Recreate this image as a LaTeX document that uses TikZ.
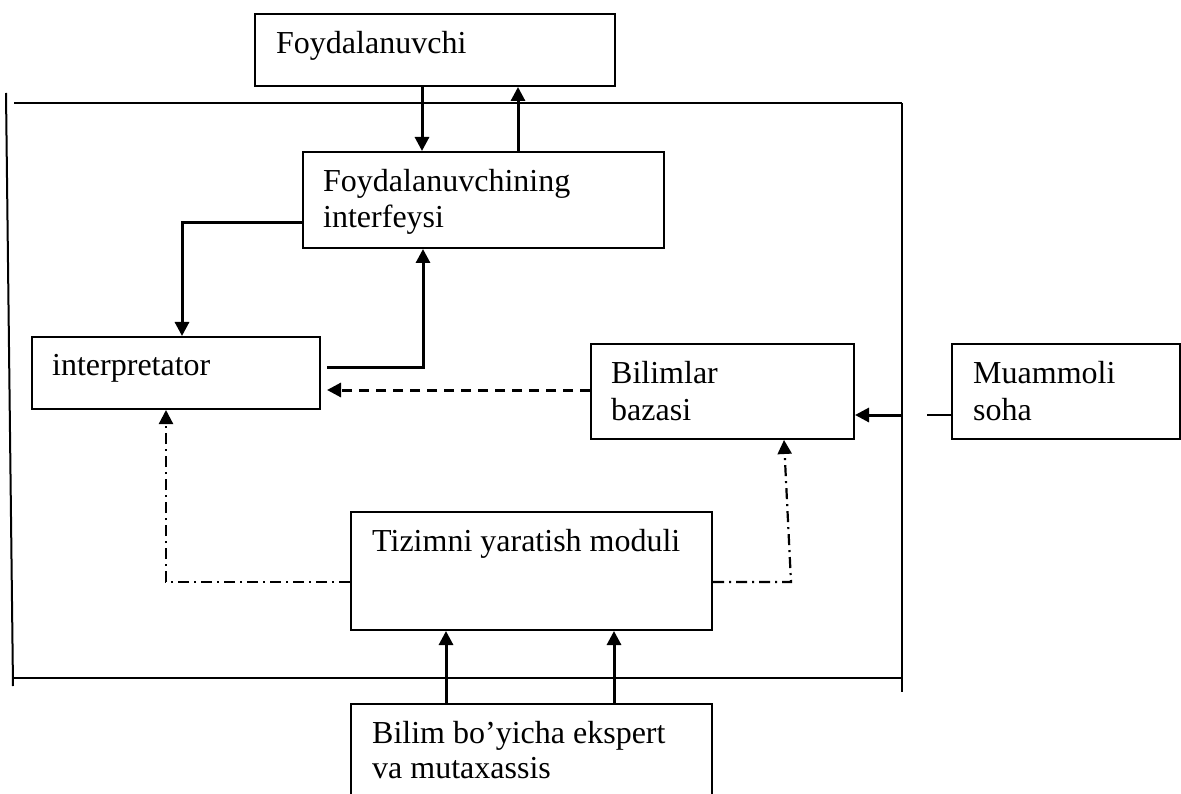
\documentclass[tikz,border=0pt]{standalone}
\usepackage{fontspec}
\setmainfont{Liberation Serif}
\usetikzlibrary{arrows.meta}
\tikzset{
  box/.style={draw, line width=2pt, inner sep=0pt, anchor=north west},
  lbl/.style={anchor=base west, inner sep=0pt, font=\fontsize{32}{36}\selectfont},
  frame/.style={line width=2pt},
  arr/.style={line width=3pt, -{Triangle[length=14pt,width=14pt]}},
  dsh/.style={dash pattern=on 10pt off 7pt},
  dshdot/.style={line width=2.2pt, dash pattern=on 11pt off 5pt on 2pt off 5pt},
}
\begin{document}
\begin{tikzpicture}[x=1pt, y=-1pt]
\clip (0,0) rectangle (1181,794);
\fill[white] (0,0) rectangle (1181,794);

% boxes
\node[box, minimum width=360pt, minimum height=72pt] (foyd) at (254,13) {};
\node[box, minimum width=361pt, minimum height=96pt] (intf) at (302,151) {};
\node[box, minimum width=288pt, minimum height=72pt] (interp) at (31,336) {};
\node[box, minimum width=263pt, minimum height=95pt] (bil) at (590,343) {};
\node[box, minimum width=228pt, minimum height=95pt] (muam) at (951,343) {};
\node[box, minimum width=361pt, minimum height=118pt] (tiz) at (350,511) {};
\node[box, minimum width=361pt, minimum height=110pt] (exp) at (350,703) {};

% texts
\node[lbl] (tfoyd) at (276,54) {Foydalanuvchi};
\node[lbl] (tintf1) at (323,192) {Foydalanuvchining};
\node[lbl] (tintf2) at (323,228) {interfeysi};
\node[lbl] (tinterp) at (52,375) {interpretator};
\node[lbl] (tbil1) at (611,383) {Bilimlar};
\node[lbl] (tbil2) at (611,420) {bazasi};
\node[lbl] (tmuam1) at (973,383) {Muammoli};
\node[lbl] (tmuam2) at (973,420) {soha};
\node[lbl] (ttiz) at (372,551) {Tizimni yaratish moduli};
\node[lbl] (texp1) at (372,743) {Bilim bo’yicha ekspert};
\node[lbl] (texp2) at (372,778) {va mutaxassis};

% frame
\draw[frame] (14,103) -- (902,103);
\draw[frame] (6,93) -- (13,686);
\draw[frame] (902,103) -- (902,692);
\draw[frame] (14,678) -- (902,678);

% helper coordinates
\coordinate (ax) at (422,0);
\coordinate (bx) at (518,0);
\coordinate (c1) at (182,223);
\coordinate (d1) at (327,367);
\coordinate (d2) at (423,0);
\coordinate (e) at (327,390);
\coordinate (f) at (902,415);
\coordinate (g) at (927,415);
\coordinate (h) at (166,582);
\coordinate (k1) at (791,582);
\coordinate (k2) at (784,0);
\coordinate (m1) at (446,0);
\coordinate (m2) at (614,0);

% connectors
\draw[arr] (foyd.south -| ax) -- (intf.north -| ax);
\draw[arr] (intf.north -| bx) -- (foyd.south -| bx);
\draw[arr] (intf.west |- c1) -| (interp.north -| c1);
\draw[arr] (d1) -| (intf.south -| d2);
\draw[arr, dsh] (bil.west |- e) -- (e);
\draw[arr] (f) -- (bil.east |- f);
\draw[line width=2pt] (g) -- (muam.west |- g);
\draw[arr, dshdot] (tiz.west |- h) -| (interp.south -| h);
\draw[arr, dshdot] (tiz.east |- k1) -- (k1) -- (bil.south -| k2);
\draw[arr] (exp.north -| m1) -- (tiz.south -| m1);
\draw[arr] (exp.north -| m2) -- (tiz.south -| m2);
\end{tikzpicture}
\end{document}
